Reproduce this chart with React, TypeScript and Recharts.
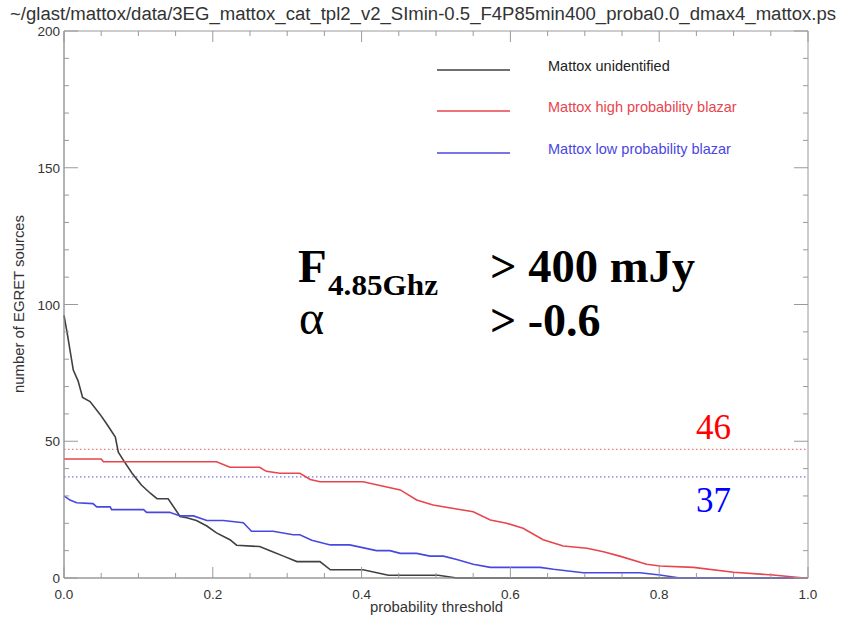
import React from 'react';
import { LineChart, Line, XAxis, YAxis, ReferenceLine, ReferenceArea, Legend } from 'recharts';

// cumulative counts (x = probability threshold)
const unidentifiedProb = [0, 0.004, 0.0125, 0.019, 0.025, 0.035, 0.048, 0.057, 0.069, 0.073, 0.08, 0.091, 0.104, 0.116, 0.125, 0.14, 0.156, 0.165, 0.178, 0.192, 0.205, 0.223, 0.232, 0.263, 0.277, 0.295, 0.313, 0.344, 0.358, 0.402, 0.436, 0.503, 0.528, 1.0];
const unidentifiedCount = [96, 90, 76, 72, 66, 64.5, 60, 56.5, 51.5, 46, 43, 38.5, 34, 31, 29, 29, 22.5, 22, 21, 19, 16.5, 14, 12, 11.5, 10, 8, 6, 6, 3, 3, 1, 1, 0, 0];

const highProb = [0, 0.05, 0.053, 0.205, 0.223, 0.263, 0.272, 0.29, 0.317, 0.331, 0.344, 0.402, 0.452, 0.474, 0.496, 0.55, 0.573, 0.595, 0.617, 0.644, 0.671, 0.703, 0.725, 0.747, 0.783, 0.801, 0.846, 0.9, 0.953, 0.995, 1.0];
const highCount = [43.5, 43.5, 42.5, 42.5, 40.5, 40.5, 39, 38.3, 38.3, 36, 35.2, 35.2, 32.2, 28.5, 26.7, 24.2, 21.2, 20, 18.2, 14, 11.7, 10.9, 9.6, 8, 5, 4.4, 3.9, 2.1, 1.1, 0, 0];

const lowProb = [0, 0.008, 0.017, 0.039, 0.044, 0.062, 0.064, 0.107, 0.111, 0.142, 0.156, 0.174, 0.192, 0.214, 0.241, 0.252, 0.281, 0.308, 0.317, 0.333, 0.358, 0.384, 0.42, 0.438, 0.452, 0.474, 0.492, 0.51, 0.528, 0.55, 0.573, 0.64, 0.658, 0.698, 0.774, 0.801, 0.828, 1.0];
const lowCount = [30, 28.5, 27.5, 27.2, 26, 26, 25, 25, 24, 24, 22.7, 22.7, 21, 21, 20.2, 17.1, 17.1, 15.8, 15.8, 13.8, 12.1, 12.1, 10, 10, 9, 9, 8, 8, 6.8, 5, 3.9, 3.9, 3.2, 1.9, 1.9, 1.1, 0, 0];

const seriesNames = ['Mattox unidentified', 'Mattox high probability blazar', 'Mattox low probability blazar'];

const highTotal = 47;
const lowTotal = 37;
const highLabel = '46';
const lowLabel = '37';

const xTicks = [0, 0.05, 0.1, 0.15, 0.2, 0.25, 0.3, 0.35, 0.4, 0.45, 0.5, 0.55, 0.6, 0.65, 0.7, 0.75, 0.8, 0.85, 0.9, 0.95, 1.0];
const yTicks = [0, 10, 20, 30, 40, 50, 60, 70, 80, 90, 100, 110, 120, 130, 140, 150, 160, 170, 180, 190, 200];

const TITLE = '~/glast/mattox/data/3EG_mattox_cat_tpl2_v2_SImin-0.5_F4P85min400_proba0.0_dmax4_mattox.ps';

const W = 868;
const H = 621;
const M = { top: 31, right: 60, bottom: 42, left: 63 };
const PLOT_T = 31;
const PLOT_B = 578;
const PLOT_L = 64;
const PLOT_R = 808;

const FRAME = '#9a9a9a';
const TEXT = '#333';
const SANS = '"Liberation Sans", Arial, Helvetica, sans-serif';
const SERIF = '"Liberation Serif", "Times New Roman", serif';

const BLACK = '#404040';
const RED = '#e8454d';
const BLUE = '#4848e0';

const toPoints = (p: number[], c: number[]) => p.map((x, i) => ({ p: x, n: c[i] }));

const XTick = (props: any) => {
  const { x, payload } = props;
  const v = payload.value;
  const major = Math.abs(v * 5 - Math.round(v * 5)) < 1e-6;
  const len = major ? 11 : 5;
  return (
    <g>
      <line x1={x} x2={x} y1={PLOT_B} y2={PLOT_B - len} stroke={FRAME} />
      <line x1={x} x2={x} y1={PLOT_T} y2={PLOT_T + len} stroke={FRAME} />
      {major && (
        <text x={x} y={PLOT_B + 21} textAnchor="middle" fontSize={13.5} fontFamily={SANS} fill={TEXT}>
          {v.toFixed(1)}
        </text>
      )}
    </g>
  );
};

const YTick = (props: any) => {
  const { y, payload } = props;
  const v = payload.value;
  const major = v % 50 === 0;
  const len = major ? 14 : 5;
  return (
    <g>
      <line x1={PLOT_L} x2={PLOT_L + len} y1={y} y2={y} stroke={FRAME} />
      <line x1={PLOT_R} x2={PLOT_R - len} y1={y} y2={y} stroke={FRAME} />
      {major && (
        <text x={PLOT_L - 4} y={y + 5} textAnchor="end" fontSize={13.5} fontFamily={SANS} fill={TEXT}>
          {v}
        </text>
      )}
    </g>
  );
};

const LegendBox = (props: any) => {
  const { payload = [] } = props;
  const rowY = [70, 111, 153];
  return (
    <svg width={W} height={H} style={{ position: 'absolute', left: 0, top: 0 }}>
      {payload.map((item: any) => {
        const row = rowY[seriesNames.indexOf(item.value)];
        return (
          <g key={item.value}>
            <line x1={437} x2={510} y1={row} y2={row} stroke={item.color} strokeWidth={1.5} />
            <text x={548} y={row + 1} fontSize={14.5} fontFamily={SANS} fill={item.color === BLACK ? '#222' : item.color}>
              {item.value}
            </text>
          </g>
        );
      })}
    </svg>
  );
};

export default function App() {
  return (
    <div style={{ position: 'absolute', left: 0, top: 0, width: W, height: H, background: '#fff' }}>
      <LineChart width={W} height={H} margin={M}>
        <XAxis
          dataKey="p"
          type="number"
          domain={[0, 1]}
          ticks={xTicks}
          interval={0}
          height={1}
          tickSize={0}
          tickMargin={0}
          tickLine={false}
          axisLine={{ stroke: FRAME }}
          tick={<XTick />}
          allowDuplicatedCategory={false}
        />
        <YAxis
          type="number"
          domain={[0, 200]}
          ticks={yTicks}
          interval={0}
          width={1}
          tickSize={0}
          tickMargin={0}
          tickLine={false}
          axisLine={{ stroke: FRAME }}
          tick={<YTick />}
        />
        <ReferenceArea x1={0} x2={1} y1={0} y2={200} fill="none" stroke={FRAME} strokeWidth={1} />
        <ReferenceLine y={highTotal} stroke="#ec7a84" strokeDasharray="1.5 2.5" strokeWidth={1.3} />
        <ReferenceLine y={lowTotal} stroke="#7676e6" strokeDasharray="1.5 2.5" strokeWidth={1.3} />
        <Line
          data={toPoints(unidentifiedProb, unidentifiedCount)}
          dataKey="n"
          name={seriesNames[0]}
          stroke={BLACK}
          strokeWidth={1.6}
          dot={false}
          isAnimationActive={false}
        />
        <Line
          data={toPoints(lowProb, lowCount)}
          dataKey="n"
          name={seriesNames[2]}
          stroke={BLUE}
          strokeWidth={1.6}
          dot={false}
          isAnimationActive={false}
        />
        <Line
          data={toPoints(highProb, highCount)}
          dataKey="n"
          name={seriesNames[1]}
          stroke={RED}
          strokeWidth={1.6}
          dot={false}
          isAnimationActive={false}
        />
        <Legend
          layout="horizontal"
          verticalAlign="middle"
          align="center"
          content={<LegendBox />}
          wrapperStyle={{ position: 'absolute', left: 0, top: 0, width: W, height: H, pointerEvents: 'none' }}
        />
      </LineChart>
      <svg width={W} height={H} style={{ position: 'absolute', left: 0, top: 0, pointerEvents: 'none' }}>
        <text x={10} y={20} fontSize={18} fontFamily={SANS} fill={TEXT} textLength={826} lengthAdjust="spacingAndGlyphs">
          {TITLE}
        </text>
        <text
          x={0}
          y={0}
          transform={`translate(24, 304) rotate(-90)`}
          textAnchor="middle"
          fontSize={14}
          fontFamily={SANS}
          fill={TEXT}
          textLength={178}
          lengthAdjust="spacingAndGlyphs"
        >
          number of EGRET sources
        </text>
        <text x={370} y={612} fontSize={14} fontFamily={SANS} fill={TEXT} textLength={133} lengthAdjust="spacingAndGlyphs">
          probability threshold
        </text>
        <g fontFamily={SERIF} fontWeight="bold" fill="#000">
          <text x={298} y={282} fontSize={47}>F</text>
          <text x={328} y={295} fontSize={30} textLength={110} lengthAdjust="spacingAndGlyphs">4.85Ghz</text>
          <text x={490} y={282} fontSize={46} textLength={205} lengthAdjust="spacingAndGlyphs">&gt; 400 mJy</text>
          <text x={299} y={334} fontSize={48} fontWeight="normal">α</text>
          <text x={490} y={336} fontSize={46}>&gt; -0.6</text>
        </g>
        <text x={696} y={439} fontSize={35} fontFamily={SERIF} fill="#ff0000">{highLabel}</text>
        <text x={696} y={512} fontSize={35} fontFamily={SERIF} fill="#0000ff">{lowLabel}</text>
      </svg>
    </div>
  );
}
